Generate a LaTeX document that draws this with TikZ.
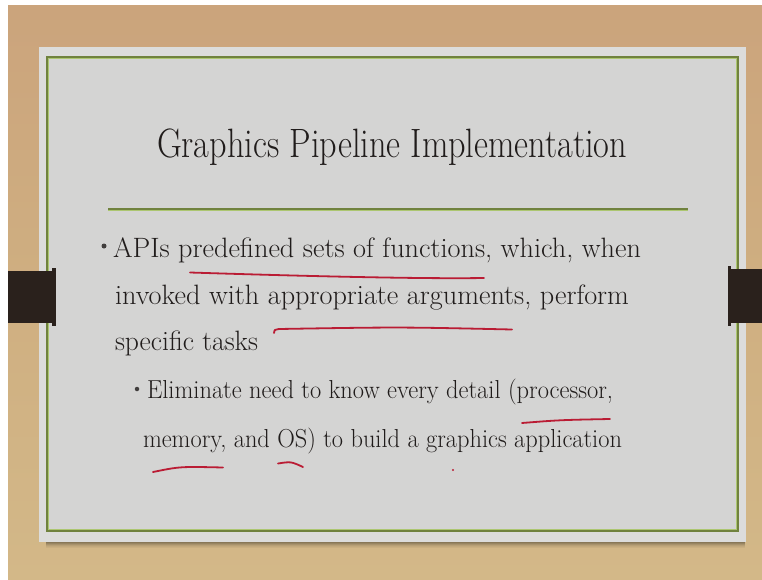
\documentclass[tikz,border=0pt]{standalone}
\usepackage{graphicx}
\usetikzlibrary{calc}
\definecolor{woodtop}{RGB}{203,164,124}
\definecolor{woodmid}{RGB}{207,175,129}
\definecolor{woodbot}{RGB}{211,184,136}
\definecolor{panelout}{RGB}{220,220,219}
\definecolor{panelin}{RGB}{212,212,211}
\definecolor{olive}{RGB}{112,130,62}
\definecolor{lightolive}{RGB}{172,198,112}
\definecolor{clipdark}{RGB}{42,33,28}
\definecolor{ink}{RGB}{32,28,27}
\definecolor{pen}{RGB}{186,28,52}
\tikzset{
  txt/.style={anchor=base west, inner sep=0pt, outer sep=0pt, text=ink},
  penline/.style={draw=pen, line width=1.8pt, line cap=round, line join=round},
  bulletdot/.style={circle, fill=ink!85, inner sep=0pt, minimum size=#1},
}
% stretch a line of text to a given width, keeping its height
\newcommand{\fitto}[2]{\resizebox{#1}{\height}{#2}}
\begin{document}
\begin{tikzpicture}[x=1pt,y=-1pt]
  \useasboundingbox (0,0) rectangle (762,580);
  \fill[white] (0,0) rectangle (762,580);
  % wooden backdrop
  \shade[top color=woodtop, bottom color=woodbot, middle color=woodmid] (8,6) rectangle (762,580);
  % soft shadow under the slide card
  \foreach \d/\o in {1/0.35,2/0.28,3/0.2,4/0.13,5/0.08,6/0.04}
    \fill[black, opacity=\o] (46,541+\d) rectangle (745,542+\d);
  % slide card
  \fill[panelout] (39,47) rectangle (746,542);
  \fill[panelin] (47,57) rectangle (738,531);
  \draw[olive, line width=1.4pt] (47,57) rectangle (738,531);
  \draw[lightolive, line width=0.6pt] (48.5,58.5) rectangle (736.5,529.5);
  % side clips
  \fill[clipdark] (8,271) rectangle (55,323);
  \fill[clipdark] (52,268) rectangle (55.5,326);
  \fill[clipdark] (728,269) rectangle (762,323);
  \fill[clipdark] (727.5,266) rectangle (731,326);
  % title
  \node[txt, font=\fontsize{41}{48}\selectfont] (title) at (157,158)
    {\fitto{470pt}{Graphics Pipeline Implementation}};
  \draw[olive, line width=1.5pt] (108,209) -- (688,209);
  \draw[lightolive, line width=0.6pt] (108,210.6) -- (688,210.6);
  % first-level bullet
  \node[bulletdot=5pt] (b1) at (104,246) {};
  \node[txt, font=\fontsize{28}{34}\selectfont] (l1) at (113,257)
    {\fitto{528pt}{APIs predefined sets of functions, which, when}};
  \node[txt, font=\fontsize{28}{34}\selectfont] (l2) at (115,304)
    {\fitto{514pt}{invoked with appropriate arguments, perform}};
  \node[txt, font=\fontsize{28}{34}\selectfont] (l3) at (115,350)
    {\fitto{143pt}{specific tasks}};
  % second-level bullet
  \node[bulletdot=4.5pt] (b2) at (137,389) {};
  \node[txt, font=\fontsize{26}{31}\selectfont] (s1) at (147,398)
    {\fitto{466pt}{Eliminate need to know every detail (processor,}};
  \node[txt, font=\fontsize{26}{31}\selectfont] (s2) at (143,447)
    {\fitto{479pt}{memory, and OS) to build a graphics application}};
  % hand-drawn pen marks
  \draw[penline] (190,272.5) .. controls (300,276) and (420,279) .. (484,278);
  \draw[penline] (274,333) .. controls (274,330) .. (279,329) .. controls (400,327) .. (512,329.5);
  \draw[penline] (522,423) .. controls (560,420) .. (610,419);
  \draw[penline] (153,472) .. controls (180,466.5) .. (223,467.5);
  \draw[penline] (278,463.5) .. controls (291,461.5) .. (303,467);
  \fill[pen] (453,470) circle (1.1);
\end{tikzpicture}
\end{document}
